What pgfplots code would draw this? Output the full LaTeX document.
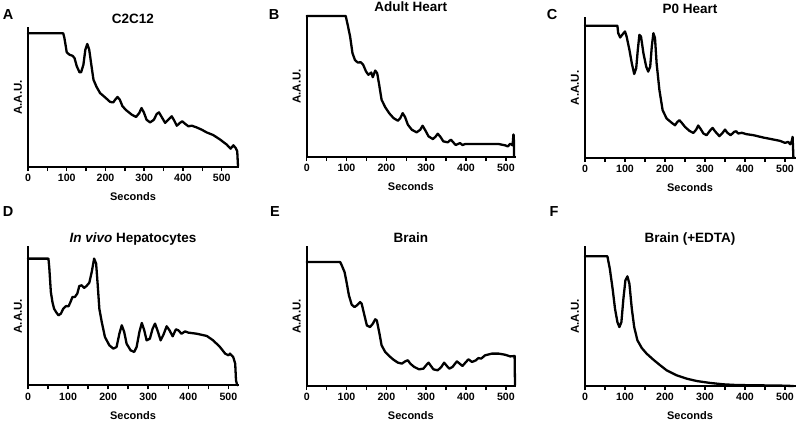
\documentclass[border=0pt]{standalone}
\usepackage{fontspec}
\setmainfont{Liberation Sans}
\usepackage{pgfplots}
\pgfplotsset{compat=1.18}
\pgfplotsset{panel/.style={
  scale only axis, anchor=south west,
  axis x line*=bottom, axis y line*=left,
  axis line style={-, line width=2pt, line cap=rect},
  xmin=0, ymin=0, ymax=100, ytick=\empty,
  xtick={0,100,...,500}, minor xtick={50,150,...,450},
  tick align=outside, major tick length=4pt, minor tick length=4pt,
  every tick/.style={line width=1.5pt, black},
  tick label style={font=\fontsize{10.6}{12}\selectfont\bfseries},
  /pgf/number format/assume math mode=true,
  xlabel={Seconds}, ylabel={A.A.U.},
  xlabel style={at={(axis description cs:0.5,0)}, anchor=center, yshift=-30pt, font=\fontsize{11}{13}\selectfont\bfseries},
  ylabel style={at={(axis description cs:-0.048,0.5)}, anchor=center, font=\fontsize{11.5}{13}\selectfont\bfseries},
  title style={at={(axis description cs:0.5,1)}, anchor=base, yshift=-1.5pt, font=\fontsize{13.5}{16}\selectfont\bfseries},
  clip=false,
},
curve/.style={black, line width=2.3pt, line join=round, line cap=round, no marks}}
\begin{document}
\begin{tikzpicture}
\useasboundingbox (0,0) rectangle (800pt,424pt);
% Panel A
\begin{axis}[panel, at={(28pt,257pt)}, width=210pt, height=139pt, xmax=542, title={C2C12}]
\addplot[curve] coordinates {(0,96.2) (91,96.2) (94,92.8) (100,82.5) (107,80.8) (115,80) (120,78.4) (126,72.4) (133,68.1) (137,68.1) (143,73.6) (148,84.4) (153,88.5) (158,84.4) (164,72.4) (169,62.8) (177,57.6) (186,53.2) (199,50.1) (212,46.8) (220,46.5) (225,48.4) (231,50.4) (237,48.4) (244,43.6) (255,40.5) (268,37.6) (279,36) (287,38.8) (293,42.4) (299,39.3) (306,34) (315,32.1) (325,34) (332,38.1) (338,39.3) (345,36) (354,31.7) (362,34) (371,36.5) (377,33.6) (384,29.7) (392,31.7) (398,32.9) (405,31.2) (414,29.3) (423,29.7) (435,28.5) (448,26.9) (461,24.9) (478,23) (496,19.7) (513,16.1) (523,13.2) (530,15.6) (536,13.7) (540,11.3) (542,0.5)};
\end{axis}
% Panel B
\begin{axis}[panel, at={(306.7pt,267pt)}, width=208.3pt, height=141pt, xmax=523, title={Adult Heart}]
\addplot[curve] coordinates {(0,100) (98,100) (103,93.6) (109,85.4) (115,73.6) (121,68.9) (128,67) (136,67.2) (142,65.3) (149,60.6) (155,58.3) (162,59.9) (166,56.6) (172,61.3) (177,59.4) (182,51.2) (188,40.6) (197,35.4) (207,31.1) (218,27.6) (229,25.7) (235,27.6) (241,31.1) (247,28.3) (254,22.9) (264,19.3) (276,17.5) (285,19.3) (291,22.2) (297,19.3) (306,14.6) (317,12.7) (324,14.6) (329,16.5) (335,14.6) (343,11.1) (354,10.4) (362,12.3) (368,10.4) (374,8.5) (385,9.9) (391,8.5) (398,9.2) (404,9.2) (440,9.2) (482,9.2) (498,8.3) (505,7.5) (511,9.4) (517,8.3) (519,16) (520,15) (520.5,0)};
\end{axis}
% Panel C
\begin{axis}[panel, at={(585pt,266pt)}, width=210pt, height=140pt, xmax=525, title={P0 Heart}]
\addplot[curve] coordinates {(0,94.5) (81,94.5) (83,89.2) (88,86.1) (93,88) (100,90.4) (104,86.8) (111,77.3) (117,67.7) (123,60) (128,64.1) (132,77.3) (136,88) (140,86.8) (146,74.9) (153,65.3) (158,61.7) (163,65.3) (167,79.7) (171,89.2) (175,85.6) (179,67.7) (186,48.6) (194,34.2) (204,28.2) (217,25.1) (225,23.4) (231,25.8) (236,27) (242,25.1) (250,22.2) (261,19.4) (271,17.9) (278,20.3) (283,23.2) (289,20.8) (296,17.5) (304,16.3) (312,19.4) (319,21.5) (325,19.1) (336,15.6) (344,18) (350,20.3) (356,18) (364,16.3) (373,18.7) (378,19.1) (383,17.5) (392,18) (404,17) (421,16.3) (446,14.6) (471,13.2) (488,12.2) (500,10.8) (508,11.5) (513,9.8) (517,12.2) (519,15.1) (521,0.5)};
\end{axis}
% Panel D
\begin{axis}[panel, at={(28pt,38.7pt)}, width=210pt, height=138.3pt, xmax=524, title={\textit{In vivo} Hepatocytes}]
\addplot[curve] coordinates {(0,91.6) (51,91.6) (53,85.5) (57,67.5) (61,60.2) (65,55.4) (70,53) (76,50.6) (82,51.8) (88,55.4) (95,57.3) (101,57.1) (106,60.2) (111,63.9) (117,63.9) (123,66.3) (128,71.8) (134,72.3) (140,70.4) (146,71.8) (153,74.2) (159,81.9) (165,91.6) (170,88) (174,72.3) (178,55.4) (184,45.8) (192,34.9) (203,28.9) (213,26.5) (221,27.7) (228,37.3) (234,43.4) (240,38.6) (246,30.1) (256,25.3) (265,24.1) (271,27.7) (278,38.6) (284,45.1) (290,39.8) (296,32.5) (304,33.7) (311,41) (317,44.6) (323,39.8) (331,32.5) (338,36.6) (346,42.7) (353,39.8) (361,35.4) (369,40.5) (375,39.8) (383,37.3) (392,39) (400,38.1) (421,37.3) (446,35.7) (462,32.5) (479,27.7) (492,22.9) (500,21.7) (504,22.9) (512,20.5) (517,15.7) (519,3.6) (522,0)};
\end{axis}
% Panel E
\begin{axis}[panel, at={(306.7pt,38pt)}, width=208.3pt, height=139pt, xmax=523, title={Brain}]
\addplot[curve] coordinates {(0,89.2) (84,89.2) (88,86.8) (95,82) (100,74.8) (106,65.2) (113,58.5) (120,56.8) (126,58) (134,60.4) (138,59.2) (145,50.8) (151,43.6) (159,42.4) (166,44.8) (172,48) (176,47.2) (182,38.8) (188,29.3) (197,24.5) (207,21.6) (218,18.9) (229,16.8) (239,16.1) (247,17.7) (254,18.5) (260,16.1) (270,13.7) (282,12) (293,12.5) (301,15.3) (306,16.8) (312,14.4) (318,12) (329,11.3) (338,13.7) (345,16.8) (352,14.4) (358,12.5) (366,13.7) (377,17.7) (384,16.1) (391,14.4) (400,17.3) (406,19.2) (415,17.3) (425,18.5) (431,20.1) (438,19.7) (448,22.1) (465,23.3) (482,23.3) (498,22.5) (511,21.3) (522,21.6) (523,0.5)};
\end{axis}
% Panel F
\begin{axis}[panel, at={(585pt,38pt)}, width=210pt, height=139pt, xmax=525, title={Brain (+EDTA)}]
\addplot[curve] coordinates {(0,93.3) (56,93.3) (62,84.4) (69,70) (75,55.6) (81,46) (86,42.4) (91,46) (96,62.8) (101,76) (106,78.9) (111,73.6) (117,55.6) (123,42.4) (131,32.9) (142,27.3) (154,23.3) (171,18.9) (188,14.9) (204,11.3) (229,7.7) (254,5.3) (279,3.6) (313,2.2) (346,1.2) (379,0.7) (429,0.5) (488,0.3) (521,0)};
\end{axis}
% panel letters
\node[font=\fontsize{14.5}{16}\selectfont\bfseries] at (8pt,409pt) {A};
\node[font=\fontsize{14.5}{16}\selectfont\bfseries] at (274pt,409pt) {B};
\node[font=\fontsize{14.5}{16}\selectfont\bfseries] at (552pt,409pt) {C};
\node[font=\fontsize{14.5}{16}\selectfont\bfseries] at (8pt,212pt) {D};
\node[font=\fontsize{14.5}{16}\selectfont\bfseries] at (275pt,212pt) {E};
\node[font=\fontsize{14.5}{16}\selectfont\bfseries] at (554pt,212pt) {F};
\end{tikzpicture}
\end{document}
